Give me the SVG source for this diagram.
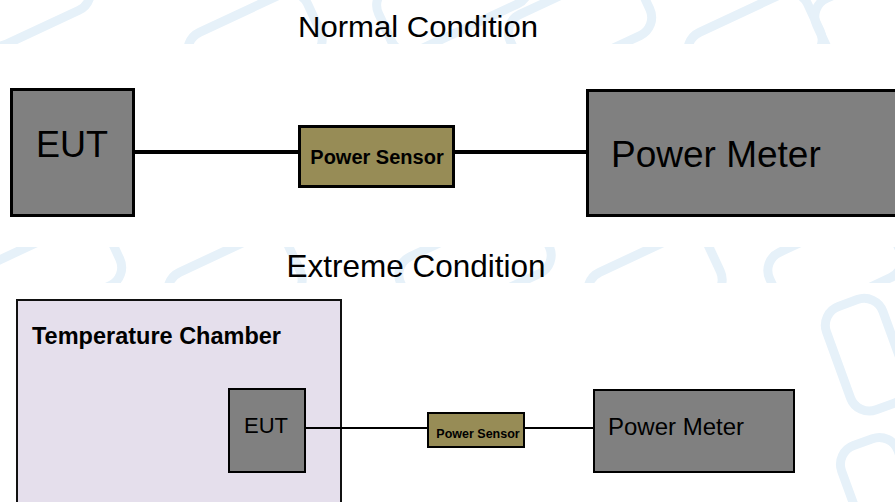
<svg xmlns="http://www.w3.org/2000/svg" width="895" height="502" viewBox="0 0 895 502">
<defs>
<style>
.t{font-family:"Liberation Sans",Arial,sans-serif;fill:#000}
.b{font-weight:bold}
.gray{fill:#808080;stroke:#000}
.sens{fill:#978c56;stroke:#000}
.wm{fill:none;stroke:#e6f1f9;stroke-width:9}
.c{stroke:#000;fill:none}
</style>
<clipPath id="band1"><rect x="0" y="0" width="895" height="44"/></clipPath>
<clipPath id="band2"><rect x="0" y="247" width="895" height="36"/></clipPath>
<clipPath id="band3"><rect x="812" y="283" width="83" height="219"/></clipPath>
</defs>
<rect width="895" height="502" fill="#fff"/>
<g id="watermark">
<g clip-path="url(#band1)">
<rect class="wm" x="-30" y="-40" width="120" height="70" rx="20" transform="rotate(-25 30 0)"/>
<rect class="wm" x="190" y="10" width="130" height="70" rx="20" transform="rotate(-25 255 45)"/>
<rect class="wm" x="380" y="-40" width="150" height="70" rx="20" transform="rotate(-25 455 0)"/>
<rect class="wm" x="510" y="-10" width="140" height="70" rx="20" transform="rotate(-25 580 25)"/>
<rect class="wm" x="690" y="10" width="130" height="70" rx="20" transform="rotate(-25 755 45)"/>
<rect class="wm" x="820" y="-20" width="110" height="80" rx="20" transform="rotate(-25 875 20)"/>
</g>
<g clip-path="url(#band2)">
<rect class="wm" x="-20" y="240" width="140" height="70" rx="20" transform="rotate(-25 50 275)"/>
<rect class="wm" x="170" y="250" width="130" height="70" rx="20" transform="rotate(-25 235 285)"/>
<rect class="wm" x="400" y="230" width="150" height="70" rx="20" transform="rotate(-25 475 265)"/>
<rect class="wm" x="590" y="250" width="130" height="70" rx="20" transform="rotate(-25 655 285)"/>
<rect class="wm" x="770" y="230" width="130" height="70" rx="20" transform="rotate(-25 835 265)"/>
</g>
<g clip-path="url(#band3)">
<rect class="wm" x="835" y="300" width="60" height="110" rx="20" transform="rotate(-20 865 350)"/>
<rect class="wm" x="845" y="440" width="60" height="80" rx="20" transform="rotate(-20 875 475)"/>
</g>
</g>
<text class="t" x="418" y="37" font-size="30" text-anchor="middle" textLength="240" lengthAdjust="spacingAndGlyphs">Normal Condition</text>
<text class="t" x="416" y="277" font-size="31.5" text-anchor="middle">Extreme Condition</text>
<g id="chamber">
<rect x="17" y="300" width="324" height="220" fill="#e5dfec" stroke="#111" stroke-width="2"/>
<text class="t b" x="32" y="344" font-size="23.5">Temperature Chamber</text>
</g>
<g id="connectors">
<line class="c" x1="135" y1="152" x2="300" y2="152" stroke-width="4"/>
<line class="c" x1="455" y1="152" x2="588" y2="152" stroke-width="4"/>
<line class="c" x1="306" y1="428" x2="428" y2="428" stroke-width="2"/>
<line class="c" x1="525" y1="428" x2="594" y2="428" stroke-width="2"/>
</g>
<g id="eut1">
<rect class="gray" x="11.5" y="89.5" width="122" height="126" stroke-width="3"/>
<text class="t" x="72" y="157" font-size="36" text-anchor="middle">EUT</text>
</g>
<g id="sensor1">
<rect class="sens" x="299.5" y="126.5" width="154" height="60" stroke-width="3"/>
<text class="t b" x="377" y="164" font-size="20" text-anchor="middle">Power Sensor</text>
</g>
<g id="meter1">
<rect class="gray" x="587.5" y="90.5" width="320" height="125" stroke-width="3"/>
<text class="t" x="611" y="167" font-size="37">Power Meter</text>
</g>
<g id="eut2">
<rect class="gray" x="229" y="389" width="76" height="83" stroke-width="2"/>
<text class="t" x="266" y="433" font-size="22" text-anchor="middle">EUT</text>
</g>
<g id="sensor2">
<rect class="sens" x="428" y="413" width="96" height="34" stroke-width="2"/>
<text class="t b" x="478" y="438" font-size="12.5" text-anchor="middle">Power Sensor</text>
</g>
<g id="meter2">
<rect class="gray" x="594" y="390" width="200" height="82" stroke-width="2"/>
<text class="t" x="608" y="435" font-size="24">Power Meter</text>
</g>
</svg>
